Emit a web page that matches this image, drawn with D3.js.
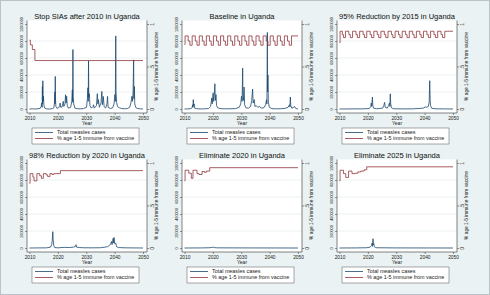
<!DOCTYPE html>
<html>
<head>
<meta charset="utf-8">
<script src="https://cdn.jsdelivr.net/npm/d3@7"></script>
<style>
  body { margin: 0; background: #eaf2f3; }
  svg { display: block; font-family: "Liberation Sans", Arial, sans-serif; }
</style>
</head>
<body>
<div id="chart"></div>
<script>
// ---- data ----
const titles = [
  "Stop SIAs after 2010 in Uganda",
  "Baseline in Uganda",
  "95% Reduction by 2015 in Uganda",
  "98% Reduction by 2020 in Uganda",
  "Eliminate 2020 in Uganda",
  "Eliminate 2025 in Uganda"
];
const yearTicks = [2010, 2020, 2030, 2040, 2050];
const caseTicks = [0, 200000, 400000, 600000, 800000, 1000000];
const immuneTicks = [0, 0.5, 1];
const immuneTickLabels = ["0", ".5", "1"];
const legendLabels = ["Total measles cases", "% age 1-5 immune from vaccine"];

// total measles cases, [year, cases]
const casesStopSIAs = [[2010,0],[2011,2000],[2012,0],[2013,3000],[2013.8,8000],[2014.1,30000],[2014.3,70000],[2014.45,20000],[2014.55,265000],[2014.6,60000],[2014.7,332000],[2014.8,90000],[2014.9,150000],[2015.1,40000],[2015.4,10000],[2016,2000],[2017,0],[2018,3000],[2018.6,15000],[2018.8,80000],[2018.95,200000],[2019.0,60000],[2019.08,383000],[2019.15,120000],[2019.3,30000],[2019.7,8000],[2020.3,15000],[2020.6,40000],[2020.8,70000],[2021.0,20000],[2021.5,25000],[2021.9,90000],[2022.1,30000],[2022.5,60000],[2022.7,168000],[2022.9,70000],[2023.1,150000],[2023.3,40000],[2023.7,10000],[2024.5,20000],[2024.9,90000],[2025.1,226000],[2025.2,80000],[2025.3,700000],[2025.4,150000],[2025.6,60000],[2026,10000],[2027,3000],[2028,2000],[2029,5000],[2030.1,20000],[2030.4,120000],[2030.6,250000],[2030.7,90000],[2030.8,566000],[2030.9,140000],[2031.1,180000],[2031.3,40000],[2031.8,10000],[2032.4,30000],[2032.6,50000],[2032.8,10000],[2033.6,40000],[2033.9,180000],[2034.1,60000],[2034.3,110000],[2034.6,20000],[2035.2,70000],[2035.5,207000],[2035.7,50000],[2036.0,148000],[2036.3,30000],[2036.8,10000],[2037.3,60000],[2037.5,148000],[2037.7,20000],[2038.5,5000],[2039.3,15000],[2039.8,60000],[2040.1,170000],[2040.25,90000],[2040.4,860000],[2040.5,200000],[2040.7,80000],[2041,30000],[2041.6,15000],[2042.5,5000],[2043.5,3000],[2044.5,5000],[2045.3,20000],[2045.8,80000],[2046.1,150000],[2046.3,90000],[2046.5,190000],[2046.7,578000],[2046.8,120000],[2046.95,265000],[2047.1,60000],[2047.5,15000],[2048.2,5000],[2049,2000],[2050,0]];
const casesBaseline = [[2010,0],[2011,1000],[2012,3000],[2012.7,15000],[2012.9,50000],[2013.0,20000],[2013.1,110000],[2013.2,40000],[2013.4,60000],[2013.6,10000],[2014.3,3000],[2015.5,1000],[2017,2000],[2018.5,5000],[2019.2,30000],[2019.4,80000],[2019.6,130000],[2019.75,60000],[2019.9,120000],[2020.1,190000],[2020.25,90000],[2020.5,170000],[2020.7,297000],[2020.85,100000],[2021.1,170000],[2021.3,40000],[2021.7,15000],[2022.5,5000],[2024,2000],[2026,3000],[2028,5000],[2029.3,20000],[2029.8,60000],[2030.1,150000],[2030.3,90000],[2030.5,480000],[2030.6,150000],[2030.8,100000],[2031.0,258000],[2031.2,50000],[2031.6,15000],[2032.5,10000],[2033.3,30000],[2033.7,100000],[2034.0,234000],[2034.2,70000],[2034.6,110000],[2034.8,30000],[2035.3,40000],[2035.8,20000],[2036.5,30000],[2037,10000],[2038,15000],[2038.6,50000],[2038.9,110000],[2039.05,60000],[2039.2,900000],[2039.3,200000],[2039.4,400000],[2039.55,80000],[2039.9,20000],[2040.8,5000],[2042,2000],[2044,3000],[2045.5,8000],[2046.5,20000],[2047.0,50000],[2047.15,25000],[2047.3,140000],[2047.45,40000],[2047.8,10000],[2048.5,20000],[2048.8,30000],[2049.1,10000],[2049.6,3000],[2050,0]];
const casesReduce2015 = [[2010,0],[2014,1000],[2018,2000],[2020.5,5000],[2021.0,30000],[2021.2,70000],[2021.35,30000],[2021.6,140000],[2021.75,40000],[2022.0,10000],[2023,3000],[2025.2,10000],[2025.6,40000],[2025.9,78000],[2026.1,20000],[2026.8,10000],[2027.3,40000],[2027.6,70000],[2027.75,30000],[2027.9,178000],[2028.05,60000],[2028.3,15000],[2029,3000],[2032,1000],[2036,2000],[2039.5,10000],[2040.3,25000],[2040.8,20000],[2041.3,30000],[2041.6,80000],[2041.8,333000],[2041.95,110000],[2042.1,40000],[2042.5,8000],[2044,2000],[2047,1000],[2050,0]];
const casesReduce2020 = [[2010,0],[2013,1000],[2016,2000],[2017.4,10000],[2017.8,38000],[2018.0,80000],[2018.2,192000],[2018.35,96000],[2018.55,30000],[2018.9,5000],[2020,2000],[2022.5,8000],[2024,5000],[2025.5,10000],[2026.2,20000],[2026.4,38000],[2026.6,10000],[2027.5,5000],[2029,3000],[2032,2000],[2035,3000],[2037.5,15000],[2038.5,40000],[2038.9,77000],[2039.1,40000],[2039.5,115000],[2039.65,60000],[2039.8,123000],[2040.0,50000],[2040.4,58000],[2040.7,15000],[2041.3,5000],[2044,2000],[2050,0]];
const casesElim2020 = [[2010,0],[2016,1000],[2019,3000],[2019.8,8000],[2020.1,10000],[2020.5,5000],[2021.5,2000],[2030,1000],[2050,0]];
const casesElim2025 = [[2010,0],[2016,1000],[2019.5,3000],[2020.8,10000],[2021.3,30000],[2021.5,58000],[2021.65,20000],[2021.8,109000],[2021.95,40000],[2022.1,50000],[2022.3,15000],[2022.8,3000],[2030,1000],[2050,0]];

// share of 1-5 year olds immune from vaccine, steps [year, share]
const immuneStopSIAs = [[2010,0.81],[2010.3,0.755],[2011.0,0.70],[2011.9,0.57],[2050,0.57]];
const immuneBaseline = [[2010,0.76],[2010.2,0.86],[2011.3,0.80],[2011.9,0.75],[2012.7,0.86],[2013.8,0.80],[2014.4,0.75],[2015.2,0.86],[2016.3,0.80],[2016.9,0.75],[2017.7,0.86],[2018.8,0.80],[2019.4,0.75],[2020.2,0.86],[2021.3,0.80],[2021.9,0.75],[2022.7,0.86],[2023.8,0.80],[2024.4,0.75],[2025.2,0.86],[2026.3,0.80],[2026.9,0.75],[2027.7,0.86],[2028.8,0.80],[2029.4,0.75],[2030.2,0.86],[2031.3,0.80],[2031.9,0.75],[2032.7,0.86],[2033.8,0.80],[2034.4,0.75],[2035.2,0.86],[2036.3,0.80],[2036.9,0.75],[2037.7,0.86],[2038.8,0.80],[2039.4,0.75],[2040.2,0.86],[2041.3,0.80],[2041.9,0.75],[2042.7,0.86],[2043.8,0.80],[2044.4,0.75],[2045.2,0.86],[2046.3,0.80],[2046.9,0.75],[2047.7,0.86],[2050,0.86]];
const immuneReduce2015 = [[2010,0.78],[2010.2,0.915],[2011.0,0.875],[2011.4,0.84],[2012.1,0.915],[2013.3,0.875],[2013.8,0.84],[2014.6,0.915],[2015.8,0.875],[2016.3,0.84],[2017.1,0.915],[2018.3,0.875],[2018.8,0.84],[2019.6,0.915],[2020.8,0.875],[2021.3,0.84],[2022.1,0.915],[2023.3,0.875],[2023.8,0.84],[2024.6,0.915],[2025.8,0.875],[2026.3,0.84],[2027.1,0.915],[2028.3,0.875],[2028.8,0.84],[2029.6,0.915],[2030.8,0.875],[2031.3,0.84],[2032.1,0.915],[2033.3,0.875],[2033.8,0.84],[2034.6,0.915],[2035.8,0.875],[2036.3,0.84],[2037.1,0.915],[2038.3,0.875],[2038.8,0.84],[2039.6,0.915],[2040.8,0.875],[2041.3,0.84],[2042.1,0.915],[2043.3,0.875],[2043.8,0.84],[2044.6,0.915],[2045.8,0.875],[2046.3,0.84],[2047.1,0.915],[2050,0.915]];
const immuneReduce2020 = [[2010,0.76],[2010.2,0.875],[2011.2,0.835],[2011.6,0.79],[2012.6,0.875],[2013.6,0.85],[2014.2,0.82],[2014.9,0.875],[2015.9,0.86],[2016.4,0.84],[2017.2,0.875],[2018.0,0.865],[2018.6,0.875],[2020.9,0.91],[2050,0.91]];
const immuneElim2020 = [[2010,0.79],[2010.2,0.915],[2011.5,0.88],[2012.4,0.82],[2013.0,0.915],[2014.4,0.875],[2015.1,0.865],[2016.2,0.90],[2017.1,0.89],[2017.7,0.905],[2018.9,0.945],[2050,0.945]];
const immuneElim2025 = [[2010,0.79],[2010.2,0.915],[2011.4,0.875],[2012.2,0.83],[2013.2,0.905],[2014.4,0.875],[2015.5,0.88],[2016.5,0.895],[2017.5,0.905],[2018.7,0.92],[2019.6,0.955],[2050,0.955]];

const panels = [
  { title: titles[0], cases: casesStopSIAs,   immune: immuneStopSIAs },
  { title: titles[1], cases: casesBaseline,   immune: immuneBaseline },
  { title: titles[2], cases: casesReduce2015, immune: immuneReduce2015 },
  { title: titles[3], cases: casesReduce2020, immune: immuneReduce2020 },
  { title: titles[4], cases: casesElim2020,   immune: immuneElim2020 },
  { title: titles[5], cases: casesElim2025,   immune: immuneElim2025 }
];

// ---- drawing ----
const W = 490, H = 295;
const navy = "#1a476f", maroon = "#90353b";

const svg = d3.select("#chart").append("svg")
  .attr("width", W).attr("height", H);

svg.append("rect").attr("x", 0.5).attr("y", 0.5)
  .attr("width", W - 1).attr("height", H - 1)
  .attr("fill", "#eaf2f3").attr("stroke", "#b9c3c8");

// panel frame (local coords)
const plotL = 27, plotR = 147, plotT = 20.5, plotB = 113;
const x = d3.scaleLinear().domain([2010, 2050]).range([29.5, 143]);
const yCases = d3.scaleLinear().domain([0, 1000000]).range([109, 24]);
const yImm = d3.scaleLinear().domain([0, 1]).range([109, 24]);

const lineCases = d3.line().x(d => x(d[0])).y(d => yCases(d[1]));
const lineImm = d3.line().x(d => x(d[0])).y(d => yImm(d[1])).curve(d3.curveStepAfter);

function styleAxis(a, size) {
  a.selectAll("text").attr("font-size", size).attr("fill", "#222")
    .attr("font-family", "Liberation Sans, Arial, sans-serif");
  a.selectAll("line").attr("stroke", "#333").attr("stroke-width", 0.5);
  a.select(".domain").attr("stroke", "#333").attr("stroke-width", 0.6);
}

function drawPanel(p, i) {
  const col = i % 3, row = Math.floor(i / 3);
  const g = svg.append("g")
    .attr("transform", `translate(${col * 155},${row * 139})`);

  // plot region
  g.append("rect")
    .attr("x", plotL).attr("y", plotT)
    .attr("width", plotR - plotL).attr("height", plotB - plotT)
    .attr("fill", "#fff");

  // gridlines
  g.append("g").selectAll("line")
    .data(caseTicks.slice(1, -1))
    .join("line")
      .attr("x1", plotL).attr("x2", plotR)
      .attr("y1", d => yCases(d)).attr("y2", d => yCases(d))
      .attr("stroke", "#e3eaec").attr("stroke-width", 0.7);

  // left axis, labels turned upright
  const yAx = g.append("g").attr("transform", `translate(${plotL},0)`)
    .call(d3.axisLeft(yCases).tickValues(caseTicks).tickSize(2)
      .tickFormat(d3.format("d")));
  styleAxis(yAx, 3.8);
  yAx.select(".domain").attr("d", `M0,${plotT}V${plotB}`);
  yAx.selectAll(".tick text")
    .attr("transform", "rotate(-90)")
    .attr("x", 0).attr("y", -4.2).attr("dy", 0).attr("text-anchor", "middle");

  // right axis
  const y2Ax = g.append("g").attr("transform", `translate(${plotR},0)`)
    .call(d3.axisRight(yImm).tickValues(immuneTicks).tickSize(2)
      .tickFormat((d, k) => immuneTickLabels[k]));
  styleAxis(y2Ax, 4.8);
  y2Ax.select(".domain").attr("d", `M0,${plotT}V${plotB}`);
  y2Ax.selectAll(".tick text")
    .attr("transform", "rotate(-90)")
    .attr("x", 0).attr("y", 7).attr("dy", 0).attr("text-anchor", "middle");

  // bottom axis
  const xAx = g.append("g").attr("transform", `translate(0,${plotB})`)
    .call(d3.axisBottom(x).tickValues(yearTicks).tickSize(2).tickPadding(1.5)
      .tickFormat(d3.format("d")));
  styleAxis(xAx, 4.8);
  xAx.select(".domain").attr("d", `M${plotL},0H${plotR}`);

  // axis titles
  g.append("text")
    .attr("x", (plotL + plotR) / 2).attr("y", 124.5)
    .attr("text-anchor", "middle").attr("font-size", 5).attr("fill", "#222")
    .text("Year");
  g.append("text")
    .attr("transform", `translate(${plotR + 11},${yImm(0.5)}) rotate(-90)`)
    .attr("text-anchor", "middle").attr("font-size", 4.8).attr("fill", "#222")
    .text(legendLabels[1]);

  // title
  g.append("text")
    .attr("x", (plotL + plotR) / 2).attr("y", 18.5)
    .attr("text-anchor", "middle").attr("font-size", 7.5).attr("fill", "#111")
    .text(p.title);

  // series
  g.append("path").datum(p.cases)
    .attr("d", lineCases).attr("fill", "none")
    .attr("stroke", navy).attr("stroke-width", 0.8).attr("stroke-linejoin", "round");
  g.append("path").datum(p.immune)
    .attr("d", lineImm).attr("fill", "none")
    .attr("stroke", maroon).attr("stroke-width", 0.8);

  // legend
  const lg = g.append("g").attr("transform", "translate(32,128)");
  lg.append("rect").attr("width", 107).attr("height", 16)
    .attr("fill", "#fff").attr("stroke", "#555").attr("stroke-width", 0.5);
  lg.selectAll("g.item")
    .data(legendLabels)
    .join("g").attr("class", "item")
    .attr("transform", (d, k) => `translate(0,${4.5 + k * 6})`)
    .each(function (d, k) {
      const it = d3.select(this);
      it.append("line").attr("x1", 3).attr("x2", 21)
        .attr("stroke", k ? maroon : navy).attr("stroke-width", 0.8);
      it.append("text").attr("x", 25).attr("dy", "0.35em")
        .attr("font-size", 5.4).attr("fill", "#222").text(d);
    });
}

panels.forEach(drawPanel);
</script>
</body>
</html>
